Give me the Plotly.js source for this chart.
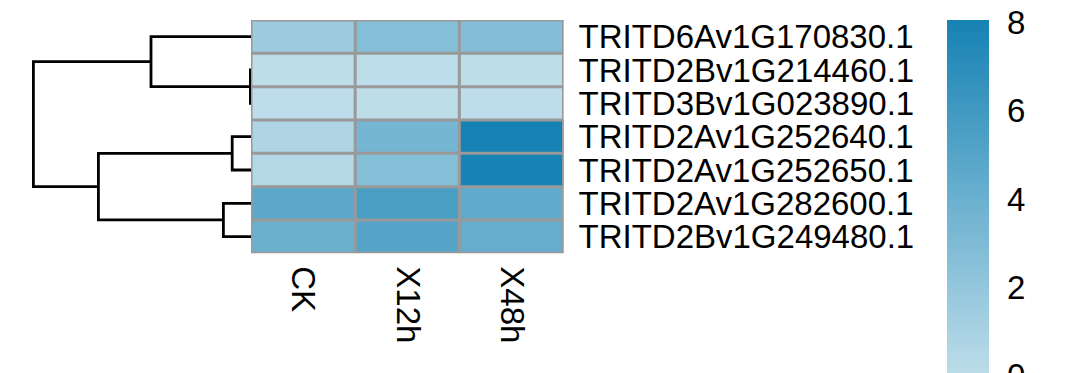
<!DOCTYPE html>
<html>
<head>
<meta charset="utf-8">
<script src="https://cdn.plot.ly/plotly-3.0.1.min.js"></script>
<style>
  html, body { margin: 0; padding: 0; background: #ffffff; overflow: hidden; }
  #chart { width: 1066px; height: 373px; }
</style>
</head>
<body>
<div id="chart"></div>
<script>
// ---- data ----
const genes = [
  "TRITD6Av1G170830.1",
  "TRITD2Bv1G214460.1",
  "TRITD3Bv1G023890.1",
  "TRITD2Av1G252640.1",
  "TRITD2Av1G252650.1",
  "TRITD2Av1G282600.1",
  "TRITD2Bv1G249480.1"
];
const conditions = ["CK", "X12h", "X48h"];
const valuesCK   = [1.55, 0.02, 0.03, 0.68, 0.44, 4.67, 3.98];
const valuesX12h = [2.77, 0.03, 0.02, 3.49, 2.76, 5.61, 4.96];
const valuesX48h = [2.80, 0.02, 0.03, 8.06, 8.00, 4.42, 4.23];
const colorTicks = [0, 2, 4, 6, 8];

// row dendrogram (linkage: node ids 0..6 are leaves, 7.. are merges)
const mergeLeft   = [1, 3, 5, 0, 8, 10];
const mergeRight  = [2, 4, 6, 7, 9, 11];
const mergeHeight = [0.03, 0.94, 1.38, 5.0, 7.63, 10.88];

// ---- build ----
const FONT = "Liberation Sans, Arial, Helvetica, sans-serif";
const z = genes.map((g, i) => [valuesCK[i], valuesX12h[i], valuesX48h[i]]);
const rowIdx = genes.map((g, i) => i);

const nodeY = rowIdx.slice();
const nodeH = rowIdx.map(() => 0);
const dx = [], dy = [];
mergeLeft.forEach((a, k) => {
  const b = mergeRight[k], h = mergeHeight[k];
  dx.push(nodeH[a], h, h, nodeH[b], null);
  dy.push(nodeY[a], nodeY[a], nodeY[b], nodeY[b], null);
  nodeY.push((nodeY[a] + nodeY[b]) / 2);
  nodeH.push(h);
});

const W = 1066, H = 373;
const heatLeft = 251, heatRight = 563.5, heatTop = 20, heatBottom = 253.3;

const heat = {
  type: "heatmap",
  x: conditions,
  y: rowIdx,
  z: z,
  zmin: -0.1,
  zmax: 8.06,
  colorscale: [[0, "#BFDEEA"], [1, "#1682B4"]],
  xaxis: "x",
  yaxis: "y",
  hoverinfo: "skip",
  colorbar: {
    thickness: 42,
    thicknessmode: "pixels",
    len: 360,
    lenmode: "pixels",
    x: 947 / W,
    xanchor: "left",
    xpad: 0,
    y: 1 - heatTop / H,
    yanchor: "top",
    ypad: 0,
    outlinewidth: 0,
    tickvals: colorTicks,
    ticktext: colorTicks.map(String),
    ticks: "outside",
    ticklen: 12,
    tickcolor: "rgba(0,0,0,0)",
    ticklabeloverflow: "allow",
    tickfont: { family: FONT, size: 33, color: "#000000" }
  }
};

const dendro = {
  type: "scatter",
  mode: "lines",
  x: dx,
  y: dy,
  xaxis: "x2",
  yaxis: "y",
  line: { color: "#000000", width: 2.8 },
  hoverinfo: "skip",
  showlegend: false
};

// grid lines between cells
const shapes = [];
for (let r = 0; r <= genes.length; r++) {
  shapes.push({ type: "line", xref: "x", yref: "y",
    x0: -0.5, x1: conditions.length - 0.5, y0: r - 0.5, y1: r - 0.5,
    line: { color: "#999999", width: 3 } });
}
for (let c = 0; c <= conditions.length; c++) {
  shapes.push({ type: "line", xref: "x", yref: "y",
    x0: c - 0.5, x1: c - 0.5, y0: -0.5, y1: genes.length - 0.5,
    line: { color: "#999999", width: 3 } });
}

const layout = {
  width: W,
  height: H,
  margin: { l: 0, r: 0, t: 0, b: 0, pad: 0 },
  paper_bgcolor: "#ffffff",
  plot_bgcolor: "#ffffff",
  showlegend: false,
  font: { family: FONT, size: 33, color: "#000000" },
  xaxis: {
    domain: [heatLeft / W, heatRight / W],
    range: [-0.5, conditions.length - 0.5],
    type: "category",
    side: "bottom",
    tickangle: 90,
    ticks: "",
    ticklabelstandoff: 12,
    showgrid: false,
    zeroline: false,
    showline: false,
    tickfont: { family: FONT, size: 33, color: "#000000" },
    fixedrange: true
  },
  yaxis: {
    domain: [1 - heatBottom / H, 1 - heatTop / H],
    range: [genes.length - 0.5, -0.5],
    side: "right",
    tickvals: rowIdx,
    ticktext: genes,
    ticks: "",
    ticklabelstandoff: 14,
    showgrid: false,
    zeroline: false,
    showline: false,
    tickfont: { family: FONT, size: 33, color: "#000000" },
    fixedrange: true
  },
  xaxis2: {
    domain: [0, heatLeft / W],
    range: [12.55, 0],
    anchor: "y",
    visible: false,
    showgrid: false,
    zeroline: false,
    fixedrange: true
  },
  shapes: shapes
};

Plotly.newPlot("chart", [dendro, heat], layout, { staticPlot: true, displayModeBar: false });
</script>
</body>
</html>
